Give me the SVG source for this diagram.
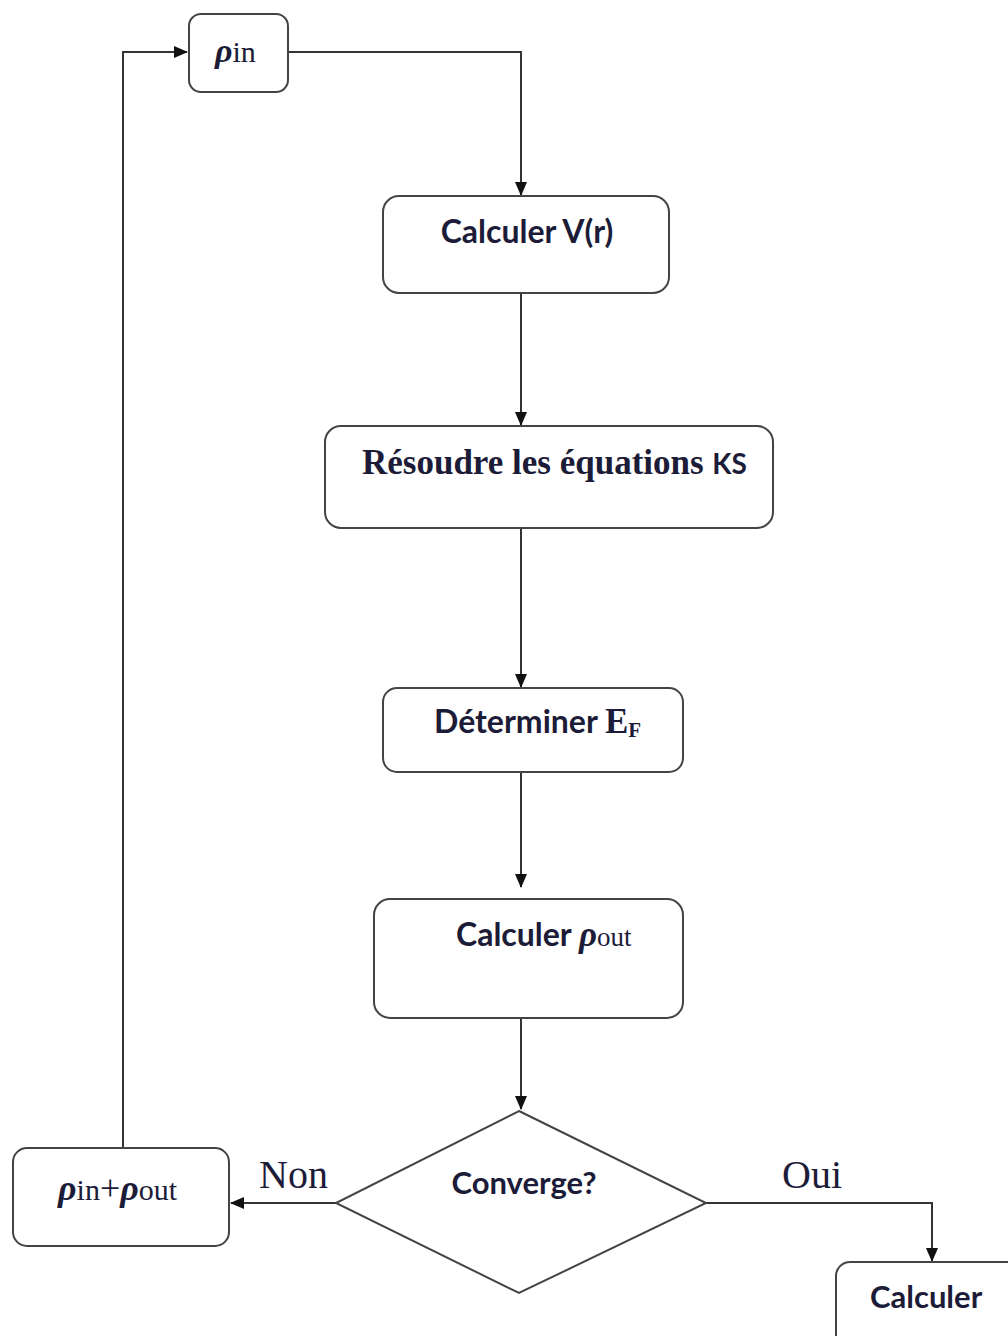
<svg xmlns="http://www.w3.org/2000/svg" width="1008" height="1336" viewBox="0 0 1008 1336">
<defs>
<marker id="ah" markerWidth="14" markerHeight="12" refX="13" refY="6" orient="auto" markerUnits="userSpaceOnUse">
<path d="M0,0 L14,6 L0,12 Z" fill="#111"/>
</marker>
<style>
.box{fill:#fff;stroke:#444;stroke-width:2}
.cal{font-family:Lato,"Liberation Sans",sans-serif;font-weight:bold;fill:#1c1c38}
.ser{font-family:"Liberation Serif",serif;fill:#1c1c38}
.rho{font-family:"Liberation Serif",serif;font-style:italic;font-weight:bold;fill:#1c1c38}
.sub{font-family:"Liberation Serif",serif;fill:#1c1c38}
.con{fill:none;stroke:#333;stroke-width:2}
</style>
</defs>
<rect width="1008" height="1336" fill="#fff"/>
<g id="connectors">
<polyline class="con" points="123,1147 123,52 187,52" marker-end="url(#ah)"/>
<polyline class="con" points="288,52 521,52 521,195" marker-end="url(#ah)"/>
<line class="con" x1="521" y1="293" x2="521" y2="425" marker-end="url(#ah)"/>
<line class="con" x1="521" y1="528" x2="521" y2="687" marker-end="url(#ah)"/>
<line class="con" x1="521" y1="772" x2="521" y2="887" marker-end="url(#ah)"/>
<line class="con" x1="521" y1="1018" x2="521" y2="1109" marker-end="url(#ah)"/>
<line class="con" x1="336" y1="1203" x2="231" y2="1203" marker-end="url(#ah)"/>
<polyline class="con" points="706,1203 932,1203 932,1261" marker-end="url(#ah)"/>
<text class="ser" x="259" y="1188" font-size="40">Non</text>
<text class="ser" x="782" y="1188" font-size="40">Oui</text>
</g>
<g id="n-rhoin">
<rect class="box" x="189" y="14" width="99" height="78" rx="12"/>
<text x="215" y="62"><tspan class="rho" font-size="34">ρ</tspan><tspan class="sub" font-size="30">in</tspan></text>
</g>
<g id="n-vr">
<rect class="box" x="383" y="196" width="286" height="97" rx="16"/>
<text class="cal" x="527" y="243" font-size="32" text-anchor="middle">Calculer V(r)</text>
</g>
<g id="n-ks">
<rect class="box" x="325" y="426" width="448" height="102" rx="16"/>
<text x="362" y="474" font-size="35"><tspan class="ser" font-weight="bold">Résoudre les équations </tspan><tspan class="cal" font-size="28">KS</tspan></text>
</g>
<g id="n-ef">
<rect class="box" x="383" y="688" width="300" height="84" rx="14"/>
<text x="434" y="733"><tspan class="cal" font-size="32">Déterminer </tspan><tspan class="ser" font-weight="bold" font-size="35">E</tspan><tspan class="ser" font-weight="bold" font-size="21" dy="4">F</tspan></text>
</g>
<g id="n-rhoout">
<rect class="box" x="374" y="899" width="309" height="119" rx="16"/>
<text x="456" y="946"><tspan class="cal" font-size="32">Calculer </tspan><tspan class="rho" font-size="35">ρ</tspan><tspan class="sub" font-size="27">out</tspan></text>
</g>
<g id="n-conv">
<polygon class="box" points="519,1111 706,1203 519,1293 336,1203"/>
<text class="cal" x="524" y="1194" font-size="31" text-anchor="middle">Converge?</text>
</g>
<g id="n-sum">
<rect class="box" x="13" y="1148" width="216" height="98" rx="14"/>
<text x="58" y="1200"><tspan class="rho" font-size="36">ρ</tspan><tspan class="sub" font-size="30">in</tspan><tspan class="ser" font-size="36">+</tspan><tspan class="rho" font-size="36">ρ</tspan><tspan class="sub" font-size="30">out</tspan></text>
</g>
<g id="n-calc">
<rect class="box" x="836" y="1262" width="200" height="100" rx="14"/>
<text class="cal" x="870" y="1308" font-size="31">Calculer</text>
</g>
</svg>
